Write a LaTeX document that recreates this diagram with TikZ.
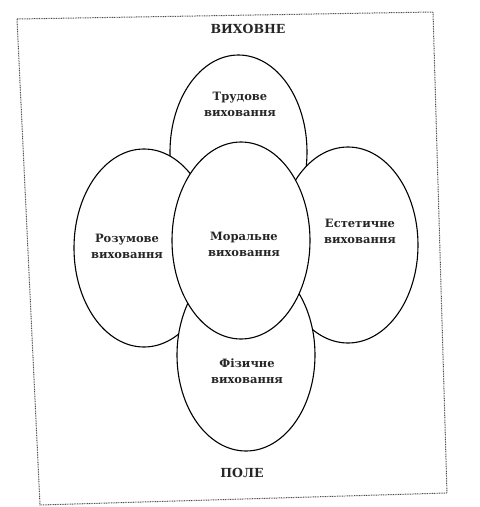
\documentclass[tikz,border=0pt]{standalone}
\usepackage{fontspec}
\setmainfont{DejaVu Serif}
\begin{document}
\begin{tikzpicture}[x=1pt,y=-1pt,
  oval/.style={draw=black,fill=white,line width=1.1pt},
  lbl/.style={font=\bfseries\fontsize{11.5}{13}\selectfont,align=center,text=black!85},
  ttl/.style={font=\bfseries\fontsize{12.5}{14}\selectfont,text=black!85},
  frame/.style={draw=black!70,line width=1pt,dash pattern=on 0.9pt off 0.8pt}]
\useasboundingbox (0,0) rectangle (480,507);
\coordinate (tl) at (17,19);
\coordinate (tr) at (433,12);
\coordinate (br) at (447,493);
\coordinate (bl) at (40,505);
\draw[frame] (tl) -- (tr) -- (br) -- (bl) -- cycle;
% ellipses, drawn back to front
\draw[oval] (238.5,152) ellipse [x radius=68.5, y radius=97];
\draw[oval] (144,248) ellipse [x radius=70, y radius=99];
\draw[oval] (348,245) ellipse [x radius=70, y radius=98];
\draw[oval] (246,355) ellipse [x radius=69, y radius=96];
\draw[oval] (241,240.5) ellipse [x radius=69, y radius=98.5];
% texts
\node[ttl] (vyh) at (248,29) {ВИХОВНЕ};
\node[ttl] (pole) at (242,473) {ПОЛЕ};
\node[lbl] (trud) at (240,104) {Трудове\\[3pt]виховання};
\node[lbl] (rozum) at (127,246) {Розумове\\[3pt]виховання};
\node[lbl] (moral) at (244,244) {Моральне\\[3pt]виховання};
\node[lbl] (estet) at (360,231) {Естетичне\\[3pt]виховання};
\node[lbl] (fiz) at (247,371) {Фізичне\\[3pt]виховання};
\end{tikzpicture}
\end{document}
